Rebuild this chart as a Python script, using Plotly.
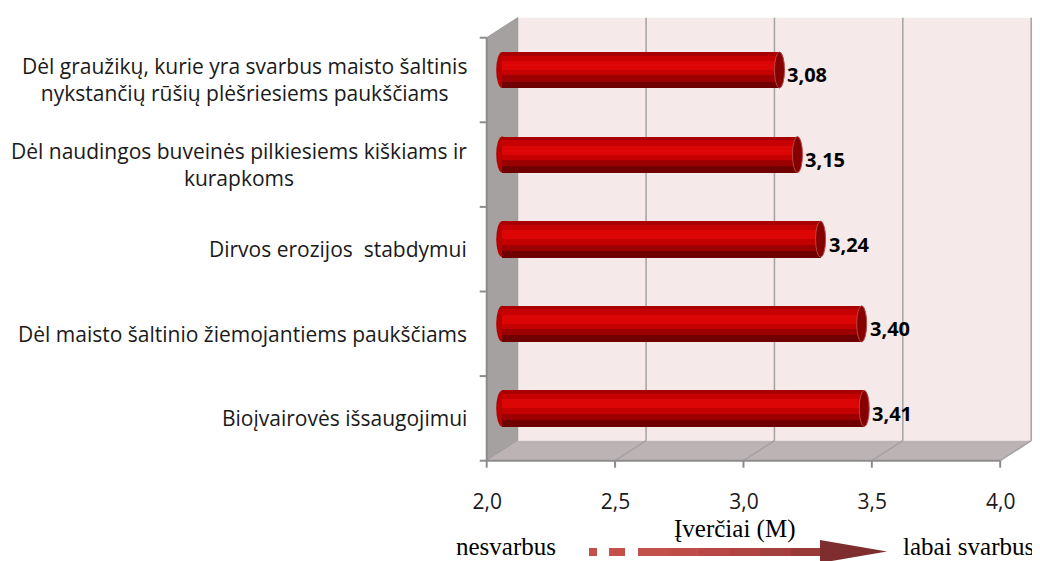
import plotly.graph_objects as go

# ---------------- data ----------------
categories = [
    "Dėl graužikų, kurie yra svarbus maisto šaltinis<br>nykstančių rūšių plėšriesiems paukščiams",
    "Dėl naudingos buveinės pilkiesiems kiškiams ir<br>kurapkoms",
    "Dirvos erozijos  stabdymui",
    "Dėl maisto šaltinio žiemojantiems paukščiams",
    "Bioįvairovės išsaugojimui",
]
values = [3.08, 3.15, 3.24, 3.40, 3.41]
value_labels = ["3,08", "3,15", "3,24", "3,40", "3,41"]
tick_values = [2.0, 2.5, 3.0, 3.5, 4.0]
tick_labels = ["2,0", "2,5", "3,0", "3,5", "4,0"]
axis_title = "Įverčiai (M)"
scale_low = "nesvarbus"
scale_high = "labai svarbus"

# ---------------- geometry (page pixels; the page body has an 8px margin) ----------------
OFF = 8
W, H = 1040 - OFF, 561 - OFF
X_MIN, X_MAX = 2.0, 4.0
PX_PER_UNIT_X = 256.75
PX_PER_UNIT_Y = 84.6
DXH = 15.5 / PX_PER_UNIT_X      # half depth offset (x units)
DYH = 10.0 / PX_PER_UNIT_Y      # half depth offset (y units)
BAR_W = 36 / PX_PER_UNIT_Y

PLOT_L, PLOT_R, PLOT_T, PLOT_B = 470, 1040, 10, 475   # page pixels
MID_X0 = 502.2   # page x of value 2.0 on the bars' plane
MID_Y0 = 70.0    # page y of first bar centre

pos = list(range(len(categories)))
x_range = [2 - (MID_X0 - PLOT_L) / PX_PER_UNIT_X,
           2 + (PLOT_R - MID_X0) / PX_PER_UNIT_X]
y_range = [(PLOT_B - MID_Y0) / PX_PER_UNIT_Y, (PLOT_T - MID_Y0) / PX_PER_UNIT_Y]
n = len(categories)
top, bot = -0.5, n - 0.5

GRID = "#a3a3a3"
AXIS = "#8c8c8c"
SANS = "Open Sans"
SERIF = "Liberation Serif"


def px(xp):
    return (xp - OFF) / W


def py(yp):
    return 1 - (yp - OFF) / H


fig = go.Figure()

# cylinder look: stacked bands of a horizontal bar
bands = [
    (0.00, 0.10, "#a80000"),
    (0.10, 0.25, "#c60000"),
    (0.25, 0.50, "#dc0606"),
    (0.50, 0.65, "#c40000"),
    (0.65, 0.82, "#9c0000"),
    (0.82, 1.00, "#700000"),
]
for a, b, c in bands:
    fig.add_trace(go.Bar(
        y=pos, x=[v - X_MIN for v in values], base=X_MIN, orientation="h",
        width=(b - a) * BAR_W + 0.004, offset=-BAR_W / 2 + a * BAR_W,
        marker=dict(color=c, line=dict(width=0)),
        hoverinfo="skip", showlegend=False,
    ))

shapes = []
# back wall
shapes.append(dict(type="rect", xref="x", yref="y", layer="below",
                   x0=X_MIN + DXH, x1=X_MAX + DXH, y0=top - DYH, y1=bot - DYH,
                   fillcolor="#f5e9e9", line=dict(width=0)))
# left side wall
shapes.append(dict(type="path", xref="x", yref="y", layer="below",
                   path=f"M {X_MIN-DXH},{top+DYH} L {X_MIN+DXH},{top-DYH} L {X_MIN+DXH},{bot-DYH} L {X_MIN-DXH},{bot+DYH} Z",
                   fillcolor="#a5a1a1", line=dict(color="#9a9696", width=1)))
# floor
shapes.append(dict(type="path", xref="x", yref="y", layer="below",
                   path=f"M {X_MIN-DXH},{bot+DYH} L {X_MAX-DXH},{bot+DYH} L {X_MAX+DXH},{bot-DYH} L {X_MIN+DXH},{bot-DYH} Z",
                   fillcolor="#bcb4b4", line=dict(width=0)))
# grid lines on back wall and floor
for t in tick_values[1:]:
    shapes.append(dict(type="line", xref="x", yref="y", layer="below",
                       x0=t + DXH, x1=t + DXH, y0=top - DYH, y1=bot - DYH,
                       line=dict(color=GRID, width=1.5)))
    shapes.append(dict(type="line", xref="x", yref="y", layer="below",
                       x0=t + DXH, x1=t - DXH, y0=bot - DYH, y1=bot + DYH,
                       line=dict(color=GRID, width=1.5)))
# front axes
shapes.append(dict(type="line", xref="x", yref="y", layer="below",
                   x0=X_MIN - DXH, x1=X_MIN - DXH, y0=top + DYH, y1=bot + DYH,
                   line=dict(color=AXIS, width=2)))
shapes.append(dict(type="line", xref="x", yref="y", layer="below",
                   x0=X_MIN - DXH, x1=X_MAX - DXH, y0=bot + DYH, y1=bot + DYH,
                   line=dict(color=AXIS, width=2)))
for i in range(n + 1):
    yb = top + i + DYH
    shapes.append(dict(type="line", xref="x", yref="y", layer="below",
                       x0=X_MIN - DXH - 7 / PX_PER_UNIT_X, x1=X_MIN - DXH, y0=yb, y1=yb,
                       line=dict(color=AXIS, width=2)))
for t in tick_values:
    shapes.append(dict(type="line", xref="x", yref="y", layer="below",
                       x0=t - DXH, x1=t - DXH, y0=bot + DYH, y1=bot + DYH + 7 / PX_PER_UNIT_Y,
                       line=dict(color=AXIS, width=2)))
# left rounded ends and right caps of cylinders
for p, v in zip(pos, values):
    shapes.append(dict(type="circle", xref="x", yref="y", layer="below",
                       x0=X_MIN - 6 / PX_PER_UNIT_X, x1=X_MIN + 6 / PX_PER_UNIT_X,
                       y0=p - BAR_W / 2, y1=p + BAR_W / 2,
                       fillcolor="#b80000", line=dict(width=0)))
    shapes.append(dict(type="circle", xref="x", yref="y", layer="above",
                       x0=v - 5 / PX_PER_UNIT_X, x1=v + 5 / PX_PER_UNIT_X,
                       y0=p - BAR_W / 2, y1=p + BAR_W / 2,
                       fillcolor="#860000", line=dict(color="#b24848", width=1)))

# arrow under axis
arrow_y0, arrow_y1 = 548, 556
for x0, x1 in [(589, 597), (609, 625)]:
    shapes.append(dict(type="rect", xref="paper", yref="paper",
                       x0=px(x0), x1=px(x1), y0=py(arrow_y1), y1=py(arrow_y0),
                       fillcolor="#c4504c", line=dict(width=0)))
body_cols = ["#c4504c", "#bf4c49", "#b84846", "#b04442", "#a6403e", "#9a3b3a"]
seg = (821 - 638) / len(body_cols)
for k, c in enumerate(body_cols):
    shapes.append(dict(type="rect", xref="paper", yref="paper",
                       x0=px(638 + k * seg), x1=px(638 + (k + 1) * seg + 0.6),
                       y0=py(arrow_y1), y1=py(arrow_y0),
                       fillcolor=c, line=dict(width=0)))
shapes.append(dict(type="path", xref="paper", yref="paper",
                   path=f"M {px(820)},{py(540)} L {px(887)},{py(551.5)} L {px(820)},{py(563)} Z",
                   fillcolor="#7e2e2e", line=dict(width=0)))

annotations = []
for p, lab in zip(pos, categories):
    annotations.append(dict(x=px(469), xref="paper", y=p + DYH, yref="y",
                            text=lab, showarrow=False, xanchor="right", yanchor="middle",
                            align="center",
                            font=dict(family=SANS, size=21, color="#1a1a1a")))
for p, v, lab in zip(pos, values, value_labels):
    annotations.append(dict(x=v, xref="x", y=p, yref="y", text=f"<b>{lab}</b>",
                            showarrow=False, xanchor="left", yanchor="middle",
                            xshift=6, yshift=-5,
                            font=dict(family=SANS, size=20, color="#000000")))
annotations.append(dict(x=px(734.5), y=py(529), xref="paper", yref="paper", text=axis_title,
                        showarrow=False, xanchor="center", yanchor="middle",
                        font=dict(family=SERIF, size=25, color="#000")))
annotations.append(dict(x=px(454), y=py(546), xref="paper", yref="paper", text=scale_low,
                        xanchor="left", yanchor="middle", showarrow=False,
                        font=dict(family=SERIF, size=25, color="#000")))
annotations.append(dict(x=px(1036), y=py(546), xref="paper", yref="paper", text=scale_high,
                        xanchor="right", yanchor="middle", showarrow=False,
                        font=dict(family=SERIF, size=25, color="#000")))

fig.update_layout(
    width=W, height=H,
    margin=dict(l=0, r=0, t=0, b=0),
    paper_bgcolor="white", plot_bgcolor="rgba(0,0,0,0)",
    barmode="overlay", bargap=0,
    showlegend=False,
    xaxis=dict(domain=[px(PLOT_L), px(PLOT_R)], range=x_range, showgrid=False, zeroline=False,
               showline=False, ticks="", tickvals=tick_values, ticktext=tick_labels,
               ticklabelshift=-15, ticklabelstandoff=12,
               tickfont=dict(family=SANS, size=21, color="#1a1a1a")),
    yaxis=dict(domain=[py(PLOT_B), py(PLOT_T)], range=y_range, showgrid=False,
               zeroline=False, showline=False, showticklabels=False, ticks=""),
    shapes=shapes,
    annotations=annotations,
)

fig.write_html("out.html")
